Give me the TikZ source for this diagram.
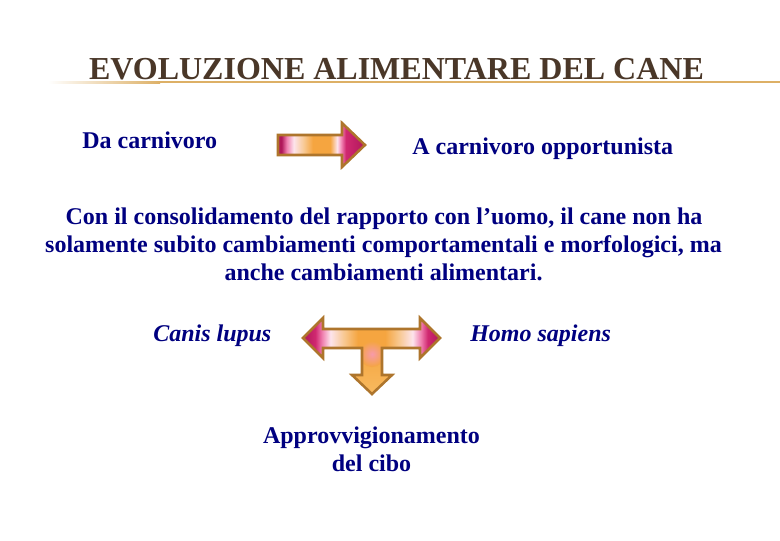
\documentclass[tikz,border=0pt]{standalone}
\usepackage{fontspec}
\setmainfont{Liberation Serif}
\definecolor{navy}{HTML}{000080}
\definecolor{titlebrown}{HTML}{4A3728}
\definecolor{gold}{HTML}{DDB066}
\definecolor{arrowedge}{HTML}{AE752C}
\definecolor{magd}{HTML}{B0185A}
\definecolor{magm}{HTML}{D02870}
\definecolor{magl}{HTML}{F080B0}
\definecolor{pinkw}{HTML}{FDE4EC}
\definecolor{peach}{HTML}{F8C890}
\definecolor{orng}{HTML}{F5A540}
\definecolor{orngl}{HTML}{F8BA60}
\definecolor{pinkspot}{HTML}{F79AAA}
\pgfdeclarehorizontalshading{arrowone}{100bp}{color(0bp)=(magd); color(27bp)=(magd); color(30bp)=(magl); color(34bp)=(pinkw); color(40bp)=(peach); color(45bp)=(orng); color(55bp)=(orng); color(59bp)=(pinkw); color(61.5bp)=(magl); color(64bp)=(magm); color(75bp)=(magd); color(100bp)=(magd)}
\pgfdeclarehorizontalshading{arrowtee}{100bp}{color(0bp)=(magd); color(25bp)=(magd); color(29.5bp)=(magm); color(32bp)=(magl); color(35bp)=(pinkw); color(40bp)=(peach); color(45bp)=(orng); color(55bp)=(orng); color(60bp)=(peach); color(65bp)=(pinkw); color(68bp)=(magl); color(70.5bp)=(magm); color(75bp)=(magd); color(100bp)=(magd)}
\tikzset{
  txt/.style={font=\fontsize{18}{21}\selectfont\bfseries, text=navy, inner sep=0pt},
  txti/.style={txt, font=\fontsize{18}{21}\selectfont\bfseries\itshape},
  arrowline/.style={draw=arrowedge, line width=1.9pt, line join=miter}
}
\begin{document}
\begin{tikzpicture}[x=0.75pt,y=-0.75pt]
\fill[white] (0,0) rectangle (780,540);
\useasboundingbox (0,0) rectangle (780,540);

% title and rule
\node[anchor=base, inner sep=0pt, text=titlebrown, font=\fontsize{24}{29}\selectfont\bfseries] (title) at (396.5,79) {EVOLUZIONE ALIMENTARE DEL CANE};
\shade[left color=white, right color=gold] (48,81) rectangle (160,83);
\fill[gold] (160,81) rectangle (780,83);

% first row
\node[txt, anchor=base west] (da) at (82,148) {Da carnivoro};
\node[txt, anchor=base west] (acarn) at (412,154) {A carnivoro opportunista};
\draw[arrowline, shading=arrowone] (278,135) -- (342,135) -- (342,123) -- (365,145) -- (342,167) -- (342,155) -- (278,155) -- cycle;

% paragraph
\node[txt, anchor=base] (p1) at (384,224) {Con il consolidamento del rapporto con l’uomo, il cane non ha};
\node[txt, anchor=base] (p2) at (383.5,252) {solamente subito cambiamenti comportamentali e morfologici, ma};
\node[txt, anchor=base] (p3) at (383.5,280) {anche cambiamenti alimentari.};

% species
\node[txti, anchor=base west] (canis) at (153,341) {Canis lupus};
\node[txti, anchor=base west] (homo) at (470,341) {Homo sapiens};

% T arrow
\def\teepath{(303,338) -- (323,318) -- (323,329) -- (420,329) -- (420,318) -- (440,338) -- (420,358) -- (420,348) -- (382,348) -- (382,375) -- (392,375) -- (372,394) -- (352,375) -- (362,375) -- (362,348) -- (323,348) -- (323,358) -- cycle}
\shade[shading=arrowtee] \teepath;
\begin{scope}
  \clip \teepath;
  \shade[top color=orng, bottom color=orngl] (350,348) rectangle (394,395);
  \shade[inner color=pinkspot, outer color=orng] (372,354) circle (13);
\end{scope}
\draw[arrowline] \teepath;

% food supply
\node[txt, anchor=base] (appr) at (371.5,443) {Approvvigionamento};
\node[txt, anchor=base] (cibo) at (371.5,471) {del cibo};
\end{tikzpicture}
\end{document}
